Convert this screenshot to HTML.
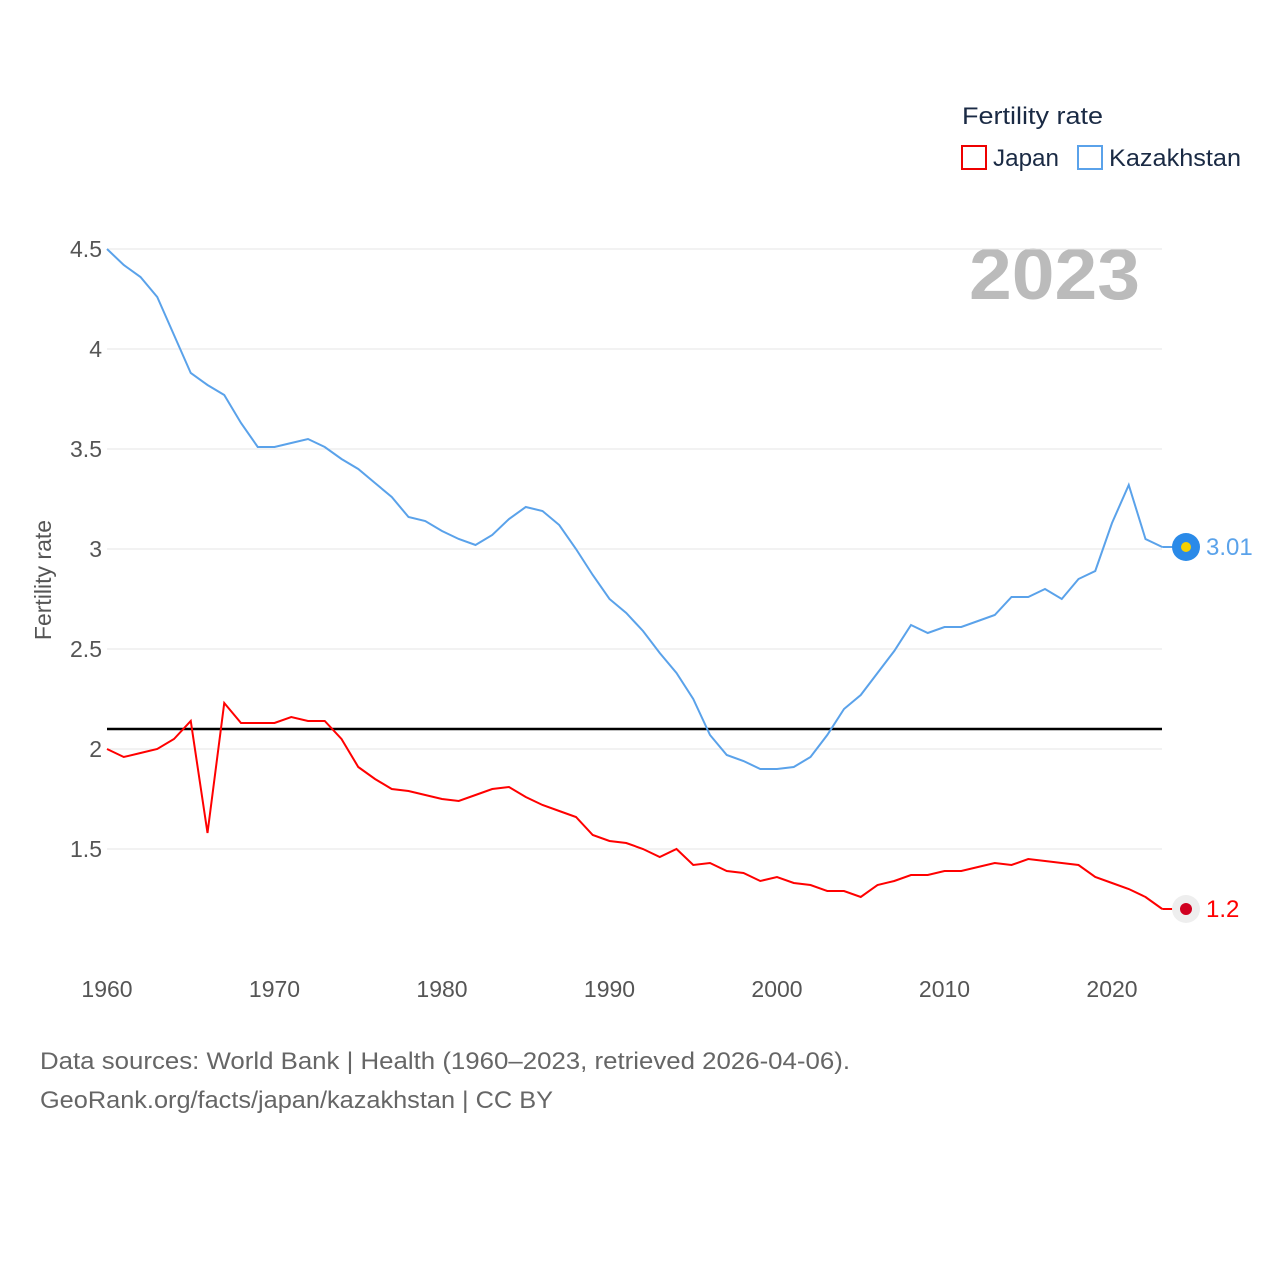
<!DOCTYPE html>
<html><head><meta charset="utf-8"><style>
body{margin:0;background:#fff;font-family:"Liberation Sans",sans-serif}
svg text{font-family:"Liberation Sans",sans-serif}
</style></head><body>
<svg id="chart" width="1280" height="1280" xmlns="http://www.w3.org/2000/svg">
<text x="962" y="124" font-size="24" fill="#1a2a44" textLength="141" lengthAdjust="spacingAndGlyphs">Fertility rate</text>
<g><rect x="962" y="146" width="24" height="23" fill="none" stroke="#e00" stroke-width="2"/><text x="993" y="166" font-size="24" fill="#1a2a44" textLength="66" lengthAdjust="spacingAndGlyphs">Japan</text></g>
<g><rect x="1078" y="146" width="24" height="23" fill="none" stroke="#5aa2ea" stroke-width="2"/><text x="1109" y="166" font-size="24" fill="#1a2a44" textLength="132" lengthAdjust="spacingAndGlyphs">Kazakhstan</text></g>
<text x="969" y="299" font-size="72" font-weight="bold" fill="#bbb" textLength="171" lengthAdjust="spacingAndGlyphs">2023</text>
<text transform="translate(51,580) rotate(-90)" font-size="23" fill="#555" text-anchor="middle">Fertility rate</text>
<g id="grid"></g><g id="series"></g>
<text x="40" y="1069" font-size="24" fill="#666" textLength="810" lengthAdjust="spacingAndGlyphs">Data sources: World Bank | Health (1960–2023, retrieved 2026-04-06).</text>
<text x="40" y="1108" font-size="24" fill="#666" textLength="513" lengthAdjust="spacingAndGlyphs">GeoRank.org/facts/japan/kazakhstan | CC BY</text>
</svg>
<script>
const years=[];for(let y=1960;y<=2023;y++)years.push(y);
const kazakhstan=[4.5,4.42,4.36,4.26,4.07,3.88,3.82,3.77,3.63,3.51,3.51,3.53,3.55,3.51,3.45,3.40,3.33,3.26,3.16,3.14,3.09,3.05,3.02,3.07,3.15,3.21,3.19,3.12,3.00,2.87,2.75,2.68,2.59,2.48,2.38,2.25,2.07,1.97,1.94,1.90,1.90,1.91,1.96,2.07,2.20,2.27,2.38,2.49,2.62,2.58,2.61,2.61,2.64,2.67,2.76,2.76,2.80,2.75,2.85,2.89,3.13,3.32,3.05,3.01];
const japan=[2.00,1.96,1.98,2.00,2.05,2.14,1.58,2.23,2.13,2.13,2.13,2.16,2.14,2.14,2.05,1.91,1.85,1.80,1.79,1.77,1.75,1.74,1.77,1.80,1.81,1.76,1.72,1.69,1.66,1.57,1.54,1.53,1.50,1.46,1.50,1.42,1.43,1.39,1.38,1.34,1.36,1.33,1.32,1.29,1.29,1.26,1.32,1.34,1.37,1.37,1.39,1.39,1.41,1.43,1.42,1.45,1.44,1.43,1.42,1.36,1.33,1.30,1.26,1.20];
const yTicks=[1.5,2,2.5,3,3.5,4,4.5];
const xTicks=[1960,1970,1980,1990,2000,2010,2020];
const replacementLevel=2.1;
const X=y=>107+(y-1960)*16.75, Y=v=>749-(v-2)*200;
const NS="http://www.w3.org/2000/svg";
function mk(t,a,p){const e=document.createElementNS(NS,t);for(const k in a)e.setAttribute(k,a[k]);p.appendChild(e);return e;}
const g=document.getElementById('grid'),s=document.getElementById('series');
yTicks.forEach(v=>{const l=mk('line',{x1:107,x2:1162,y1:Y(v),y2:Y(v),stroke:'#e6e6e6'},g);


const t=mk('text',{x:102,y:Y(v)+8,'font-size':23,fill:'#555','text-anchor':'end'},g);t.textContent=v;

});
xTicks.forEach(v=>{const t=mk('text',{x:X(v),y:997,'font-size':23,fill:'#555','text-anchor':'middle'},g);t.textContent=v;

});
const rl=mk('line',{x1:107,x2:1162,y1:Y(replacementLevel),y2:Y(replacementLevel),stroke:'#000','stroke-width':2.5},s);


function line(d,c,n){const p=mk('polyline',{points:d.map((v,i)=>X(years[i])+','+Y(v)).join(' '),fill:'none',stroke:c,'stroke-width':2},s);


const last=d[d.length-1];
mk('line',{x1:X(2023),x2:1176,y1:Y(last),y2:Y(last),stroke:c,'stroke-width':2},s);
const m=mk('circle',{cx:1186,cy:Y(last),r:14,fill:n==='japan-line'?'#eee':'#2a8ae8'},s);


mk('circle',{cx:1186,cy:Y(last),r:n==='japan-line'?6:5,fill:n==='japan-line'?'#d00020':'#f5d000'},s);
const t=mk('text',{x:1206,y:Y(last)+8,'font-size':24,fill:c},s);t.textContent=last.toFixed(2).replace(/0$/,'').replace(/\.$/,'');

}
line(kazakhstan,'#5aa2ea','kazakhstan-line');
line(japan,'#f00','japan-line');
</script>
</body></html>
